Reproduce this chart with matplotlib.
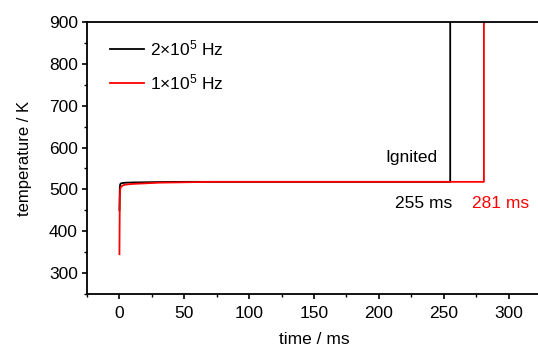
import matplotlib
matplotlib.use("Agg")
import matplotlib.pyplot as plt
from matplotlib.ticker import MultipleLocator

plt.rcParams['font.family'] = ['Liberation Sans', 'DejaVu Sans']
plt.rcParams['mathtext.fontset'] = 'custom'
plt.rcParams['mathtext.rm'] = 'Liberation Sans'
plt.rcParams['mathtext.default'] = 'regular'

# black: 2x10^5 Hz
t_black = [0, 0.3, 0.6, 1, 2, 5, 10, 20, 30, 50, 100, 200, 255, 255, 255.01]
T_black = [450, 505, 512, 514, 515, 516, 516.5, 517, 517.5, 518, 518, 518, 518, 900, 960]
# red: 1x10^5 Hz
t_red = [0, 0.3, 0.6, 1, 2, 3, 5, 10, 20, 30, 50, 70, 100, 200, 281, 281, 281.01]
T_red = [345, 480, 500, 505, 508, 510, 511.5, 513, 514.5, 516, 517, 518, 518, 518, 518, 900, 960]

labels = ['2×10$^{5}$ Hz', '1×10$^{5}$ Hz']
colors = ['black', '#ff0000']
ignite_times = ['255 ms', '281 ms']

fig = plt.figure(figsize=(5.38, 3.5), dpi=100)
ax = fig.add_axes([87/538, 56/350, 454/538, 272/350])

ax.plot(t_black, T_black, color=colors[0], lw=1.3, label=labels[0])
ax.plot(t_red, T_red, color=colors[1], lw=1.3, label=labels[1])

ax.set_xlim(-25, 325)
ax.set_ylim(250, 900)
ax.xaxis.set_major_locator(MultipleLocator(50))
ax.xaxis.set_minor_locator(MultipleLocator(25))
ax.yaxis.set_major_locator(MultipleLocator(100))
ax.yaxis.set_minor_locator(MultipleLocator(50))
ax.set_yticks([300, 400, 500, 600, 700, 800, 900])
ax.tick_params(which='major', direction='out', length=3.5, width=1.2, labelsize=12.5)
ax.tick_params(axis='x', which='major', pad=5)
ax.tick_params(axis='y', which='major', pad=3)
ax.tick_params(which='minor', direction='out', length=2, width=1.0)
for s in ax.spines.values():
    s.set_linewidth(1.3)

ax.set_xlabel('time / ms', fontsize=12.5, labelpad=8)
ax.set_ylabel('temperature / K', fontsize=12, labelpad=12)

leg = ax.legend(loc='upper left', bbox_to_anchor=(0.035, 0.965), frameon=False,
                fontsize=12.5, handlelength=1.95, handletextpad=0.35, labelspacing=0.8,
                borderaxespad=0)

ax.text(411/538, 1 - 157/350, 'Ignited', transform=fig.transFigure, fontsize=12.5,
        ha='center', va='center', color='black')
ax.text(424/538, 1 - 204/350, ignite_times[0], transform=fig.transFigure, fontsize=12.5,
        ha='center', va='center', color=colors[0])
ax.text(501/538, 1 - 204/350, ignite_times[1], transform=fig.transFigure, fontsize=12.5,
        ha='center', va='center', color=colors[1])

fig.savefig('out.png', dpi=100)
